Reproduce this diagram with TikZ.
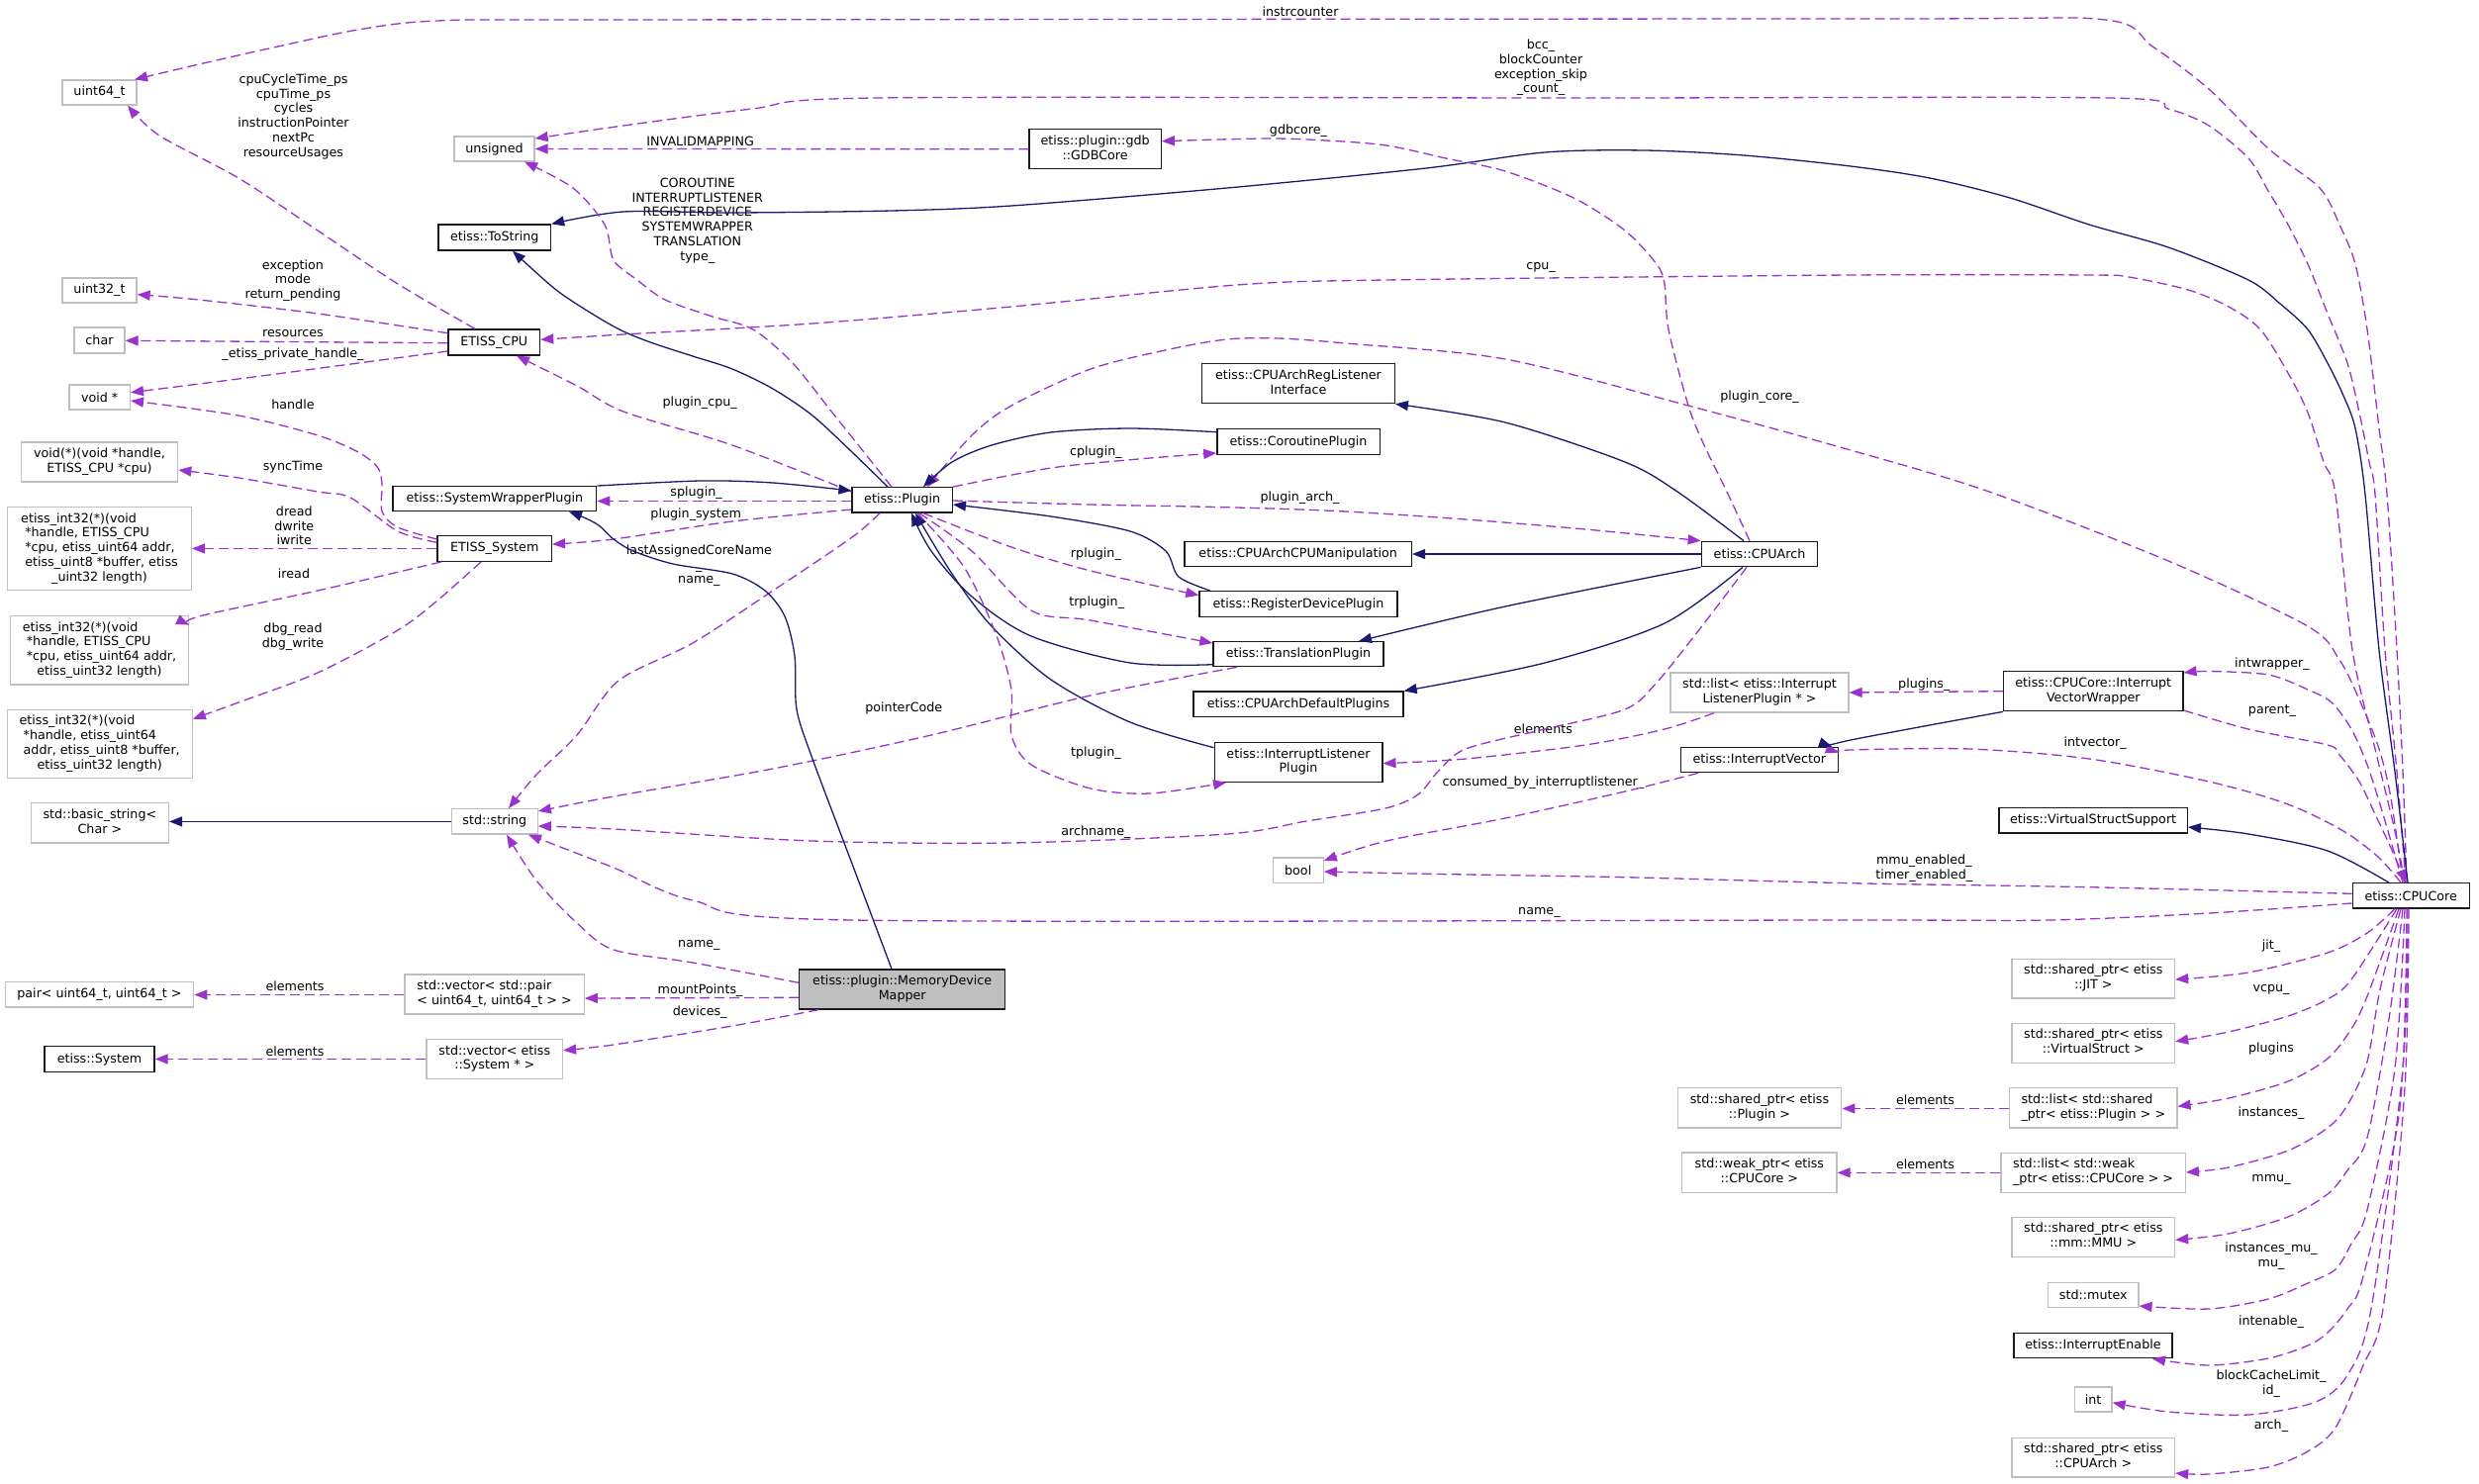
\documentclass[tikz,border=0pt]{standalone}
\usepackage{fontspec}
\setmainfont{DejaVu Sans}
\usetikzlibrary{arrows.meta}
\definecolor{memc}{HTML}{9A32CD}
\definecolor{inhc}{HTML}{191970}
\definecolor{extb}{HTML}{BFBFBF}
\definecolor{clsb}{HTML}{1A1A1A}
\newcommand\dfont{\fontsize{12.7}{14.8}\selectfont}
\newcommand\tb[1]{\begin{tabular}{@{}l@{}}#1\end{tabular}}
\newcommand\lc[1]{\multicolumn{1}{@{}c@{}}{#1}}
\tikzset{
 bx/.style={draw, line width=1.3pt, inner sep=0pt, font=\dfont},
 ext/.style={bx, draw=extb},
 cls/.style={bx, draw=clsb},
 mainbox/.style={bx, draw=clsb, fill=extb},
 sz/.style 2 args={minimum width=#1pt, minimum height=#2pt},
 lbl/.style={inner sep=0pt, font=\dfont, align=center},
 mem/.style={draw=memc, line width=1.3pt, dash pattern=on 10pt off 5pt, -{Triangle[length=13pt,width=10pt]}},
 inh/.style={draw=inhc, line width=1.3pt, -{Triangle[length=13pt,width=10pt]}},
}
\begin{document}
\begin{tikzpicture}[x=1pt,y=-1pt]
\path[use as bounding box, fill=white] (0,0) rectangle (2505,1499);
% ---------- nodes ----------
\node[ext,sz={75}{25}] (uint64) at (100.5,93.5) {uint64\_t};
\node[ext,sz={81}{25}] (unsigned) at (499.5,150.5) {unsigned};
\node[cls,sz={113.5}{26}] (tostring) at (499.8,240) {etiss::ToString};
\node[ext,sz={75}{25}] (uint32) at (100.5,293.5) {uint32\_t};
\node[ext,sz={51}{26}] (char) at (100.5,344) {char};
\node[cls,sz={92.6}{26}] (etisscpu) at (499.3,346) {ETISS\_CPU};
\node[ext,sz={61.4}{25}] (voidp) at (100.7,401.5) {void *};
\node[ext,sz={158.3}{40}] (voidfn) at (100.5,467) {\tb{void(*)(void *handle,\\\lc{ETISS\_CPU *cpu)}}};
\node[cls,sz={205.7}{25}] (swp) at (499.9,504.2) {etiss::SystemWrapperPlugin};
\node[ext,sz={185.7}{84}] (a5) at (100.5,554.7) {\tb{etiss\_int32(*)(void\\\ *handle, ETISS\_CPU\\\ *cpu, etiss\_uint64 addr,\\\ etiss\_uint8 *buffer, etiss\\\lc{\_uint32 length)}}};
\node[cls,sz={115.3}{25.6}] (etisssys) at (499.7,554.5) {ETISS\_System};
\node[ext,sz={180}{69.3}] (a4) at (100.5,657.4) {\tb{etiss\_int32(*)(void\\\ *handle, ETISS\_CPU\\\ *cpu, etiss\_uint64 addr,\\\lc{etiss\_uint32 length)}}};
\node[ext,sz={187}{69.4}] (b4) at (100.7,752) {\tb{etiss\_int32(*)(void\\\ *handle, etiss\_uint64\\\ addr, etiss\_uint8 *buffer,\\\lc{etiss\_uint32 length)}}};
\node[ext,sz={139}{40.3}] (basicstr) at (100.9,831.9) {\tb{std::basic\_string<\\\lc{Char >}}};
\node[ext,sz={86.8}{25.3}] (stdstr) at (499.8,830.4) {std::string};
\node[ext,sz={190.5}{25.3}] (pair) at (100.5,1005.4) {pair< uint64\_t, uint64\_t >};
\node[ext,sz={181.2}{40}] (vecpair) at (499.6,1005) {\tb{std::vector< std::pair\\\lc{< uint64\_t, uint64\_t > >}}};
\node[cls,sz={111}{25.6}] (sys) at (100.5,1070.5) {etiss::System};
\node[ext,sz={137.4}{39.6}] (vecsys) at (499.8,1070.5) {\tb{std::vector< etiss\\\lc{::System * >}}};
\node[cls,sz={133.3}{40}] (gdb) at (1106.6,150.7) {\tb{etiss::plugin::gdb\\\lc{::GDBCore}}};
\node[cls,sz={101.3}{25.3}] (plugin) at (911.7,505.4) {etiss::Plugin};
\node[mainbox,sz={208}{40}] (mdm) at (911.7,1000) {\tb{etiss::plugin::MemoryDevice\\\lc{Mapper}}};
\node[cls,sz={194.5}{40}] (reglis) at (1312,387.7) {\tb{etiss::CPUArchRegListener\\\lc{Interface}}};
\node[cls,sz={164.3}{25.6}] (corout) at (1312,446.5) {etiss::CoroutinePlugin};
\node[cls,sz={229.4}{25.4}] (manip) at (1311.7,560) {etiss::CPUArchCPUManipulation};
\node[cls,sz={200}{25.6}] (rdp) at (1312,610.5) {etiss::RegisterDevicePlugin};
\node[cls,sz={172}{25}] (tp) at (1312,661.2) {etiss::TranslationPlugin};
\node[cls,sz={212}{25.3}] (defpl) at (1312,711.7) {etiss::CPUArchDefaultPlugins};
\node[cls,sz={169.7}{39.6}] (ilp) at (1312,770.5) {\tb{etiss::InterruptListener\\\lc{Plugin}}};
\node[cls,sz={117.4}{25.4}] (cpuarch) at (1778,560) {etiss::CPUArch};
\node[ext,sz={180}{40}] (listilp) at (1778,700) {\tb{std::list< etiss::Interrupt\\\lc{ListenerPlugin * >}}};
\node[cls,sz={158.7}{25.4}] (intvec) at (1777.9,768) {etiss::InterruptVector};
\node[ext,sz={51}{25.7}] (bool) at (1311.7,879.9) {bool};
\node[cls,sz={181.2}{40}] (ivw) at (2115.3,698.7) {\tb{etiss::CPUCore::Interrupt\\\lc{VectorWrapper}}};
\node[cls,sz={190.4}{25.3}] (vss) at (2115.1,829.4) {etiss::VirtualStructSupport};
\node[cls,sz={118.1}{25.3}] (cpucore) at (2436.2,905.4) {etiss::CPUCore};
\node[ext,sz={164.4}{39.7}] (jit) at (2115.3,989.2) {\tb{std::shared\_ptr< etiss\\\lc{::JIT >}}};
\node[ext,sz={164.4}{40}] (vstruct) at (2115.3,1054.3) {\tb{std::shared\_ptr< etiss\\\lc{::VirtualStruct >}}};
\node[ext,sz={169.2}{40.3}] (listpl) at (2115.3,1119.9) {\tb{std::list< std::shared\\\lc{\_ptr< etiss::Plugin > >}}};
\node[ext,sz={165.6}{40.3}] (splugin) at (1778,1119.9) {\tb{std::shared\_ptr< etiss\\\lc{::Plugin >}}};
\node[ext,sz={186.4}{40}] (listweak) at (2115.1,1185.3) {\tb{std::list< std::weak\\\lc{\_ptr< etiss::CPUCore > >}}};
\node[ext,sz={156.3}{40.3}] (weakcore) at (1777.9,1185.2) {\tb{std::weak\_ptr< etiss\\\lc{::CPUCore >}}};
\node[ext,sz={164.4}{40}] (mmu) at (2115.3,1250.3) {\tb{std::shared\_ptr< etiss\\\lc{::mm::MMU >}}};
\node[ext,sz={91.2}{25.4}] (mutex) at (2115.3,1309) {std::mutex};
\node[cls,sz={160}{25.4}] (intenable) at (2115,1360) {etiss::InterruptEnable};
\node[ext,sz={37.8}{25}] (int) at (2115.1,1414.5) {int};
\node[ext,sz={164.4}{39.7}] (sparch) at (2115.3,1473.2) {\tb{std::shared\_ptr< etiss\\\lc{::CPUArch >}}};
% ---------- edge labels ----------
\node[lbl] (l1) at (1314,11.7) {instrcounter};
\node[lbl] (l2) at (1557,68.3) {bcc\_\\blockCounter\\exception\_skip\\\_count\_};
\node[lbl] (l3) at (707.6,142.7) {INVALIDMAPPING};
\node[lbl] (l4) at (1312,131.7) {gdbcore\_};
\node[lbl] (l5) at (704.8,223) {COROUTINE\\INTERRUPTLISTENER\\REGISTERDEVICE\\SYSTEMWRAPPER\\TRANSLATION\\type\_};
\node[lbl] (l6) at (296.5,117.7) {cpuCycleTime\_ps\\cpuTime\_ps\\cycles\\instructionPointer\\nextPc\\resourceUsages};
\node[lbl] (l7) at (1557,270.7) {cpu\_};
\node[lbl] (l8) at (1778,401) {plugin\_core\_};
\node[lbl] (l9) at (296,283.5) {exception\\mode\\return\_pending};
\node[lbl] (l10) at (296,336.7) {resources};
\node[lbl] (l11) at (296,358.3) {\_etiss\_private\_handle\_};
\node[lbl] (l12) at (296,408.3) {handle};
\node[lbl] (l13) at (296,471.7) {syncTime};
\node[lbl] (l14) at (707.2,407.3) {plugin\_cpu\_};
\node[lbl] (l15) at (1107.4,456.7) {cplugin\_};
\node[lbl] (l16) at (703.6,498.3) {splugin\_};
\node[lbl] (l17) at (706.4,520) {plugin\_system\_};
\node[lbl] (l18) at (706.4,571.7) {lastAssignedCoreName\\\_\\name\_};
\node[lbl] (l19) at (1313.5,503.3) {plugin\_arch\_};
\node[lbl] (l20) at (1107.4,560) {rplugin\_};
\node[lbl] (l21) at (1108.2,609) {trplugin\_};
\node[lbl] (l22) at (913.3,715.7) {pointerCode};
\node[lbl] (l23) at (1107.4,760.7) {tplugin\_};
\node[lbl] (l24) at (1107.4,840.7) {archname\_};
\node[lbl] (l25) at (297.3,531.3) {dread\\dwrite\\iwrite};
\node[lbl] (l26) at (297,579.3) {iread};
\node[lbl] (l27) at (296,643.7) {dbg\_read\\dbg\_write};
\node[lbl] (l28) at (706.4,955.7) {name\_};
\node[lbl] (l29) at (707.6,1000.7) {mountPoints\_};
\node[lbl] (l30) at (707.2,1022.7) {devices\_};
\node[lbl] (l31) at (298,996.7) {elements};
\node[lbl] (l32) at (298,1062.3) {elements};
\node[lbl] (l33) at (1559.4,736.7) {elements};
\node[lbl] (l34) at (1559.4,790.7) {consumed\_by\_interruptlistener\_};
\node[lbl] (l35) at (1555.4,922.7) {name\_};
\node[lbl] (l36) at (1944.3,691.7) {plugins\_};
\node[lbl] (l37) at (2295.9,671) {intwrapper\_};
\node[lbl] (l38) at (2295.9,719) {parent\_};
\node[lbl] (l39) at (2117.1,750.7) {intvector\_};
\node[lbl] (l40) at (1944.3,877.3) {mmu\_enabled\_\\timer\_enabled\_};
\node[lbl] (l41) at (2295.1,955.7) {jit\_};
\node[lbl] (l42) at (2295,1000.7) {vcpu\_};
\node[lbl] (l43) at (2295,1060) {plugins};
\node[lbl] (l44) at (2295,1125) {instances\_};
\node[lbl] (l45) at (2295,1192.7) {mmu\_};
\node[lbl] (l46) at (2295,1270) {instances\_mu\_\\mu\_};
\node[lbl] (l47) at (2295,1335.7) {intenable\_};
\node[lbl] (l48) at (2295,1398.7) {blockCacheLimit\_\\id\_};
\node[lbl] (l49) at (2295,1440.7) {arch\_};
\node[lbl] (l50) at (1945.5,1111.7) {elements};
\node[lbl] (l51) at (1945.5,1176.7) {elements};
% ---------- edges from CPUCore upward ----------
\draw[mem] plot[smooth] coordinates {(cpucore.north -| 2432,0) (2428,780) (2422,657) (2412,500) (2404,433) (2392,333) (2380,267) (2364,227) (2344,190) (2292,150) (2232,90) (2175,47) (2127,20) (1900,19) (630,20) (442,21) (362,30) (281,47) (201,65) (uint64.north -| 136,0)};
\draw[mem] plot[smooth] coordinates {(cpucore.north -| 2431,0) (2422,780) (2410,657) (2400,500) (2394,467) (2384,417) (2372,367) (2352,317) (2332,267) (2312,227) (2292,193) (2272,160) (2232,127) (2191,110) (2131,99) (1600,99) (885,99) (760,110) (630,127) (unsigned.east |- 0,140)};
\draw[inh] plot[smooth] coordinates {(cpucore.north -| 2433,0) (2420,780) (2404,657) (2390,500) (2380,433) (2368,400) (2352,367) (2332,333) (2304,307) (2272,283) (2191,250) (2111,227) (2031,200) (1950,180) (1870,168) (1762,157) (1662,152) (1561,154) (1441,170) (1240,190) (1022,208) (901,213) (740,215) (630,214) (tostring.north east)};
\draw[mem] plot[smooth] coordinates {(cpucore.north -| 2430,0) (2420,840) (2400,757) (2377,657) (2360,500) (2348,467) (2332,417) (2312,377) (2284,333) (2252,310) (2211,293) (2151,280) (2111,278) (1870,278) (1400,283) (1250,288) (1022,310) (821,327) (630,338) (etisscpu.east |- 0,343.3)};
\draw[mem] plot[smooth] coordinates {(cpucore.north -| 2428,0) (2416,807) (2404,757) (2384,707) (2364,667) (2332,633) (2191,567) (2010,497) (1870,455) (1706,410) (1521,363) (1360,347) (1292,342) (1240,343) (1182,353) (1102,373) (1022,410) (982,440) (plugin.north -| 937,0)};
\draw[mem] plot[smooth] coordinates {(cpucore.north -| 2426,0) (2404,867) (2368,840) (2312,813) (2232,790) (2111,767) (1990,757) (1870,758) (intvec.east |- 0,760.7)};
\draw[mem] plot[smooth] coordinates {(cpucore.north -| 2428,0) (2408,823) (2392,773) (2376,737) (2356,710) (2332,697) (2292,682) (2232,678.5) (ivw.east |- 0,680)};
\draw[mem] plot[smooth] coordinates {(ivw.east |- 0,718) (2272,737) (2352,753) (2364,763) (2384,790) (2400,823) (2416,857) (cpucore.north -| 2431,0)};
\draw[inh] plot[smooth] coordinates {(cpucore.north -| 2414,0) (2352,860) (2272,843) (vss.east |- 0,836)};
\draw[mem] plot[smooth] coordinates {(cpucore.west |- 0,903.3) (2111,896.7) (1870,892.7) (1642,886.7) (1441,883.3) (bool.east |- 0,881)};
\draw[mem] plot[smooth] coordinates {(cpucore.west |- 0,913) (2232,923) (2071,930) (1870,930) (861,930) (700,910) (620,877) (stdstr.south -| 534,0)};
% ---------- edges from CPUCore downward ----------
\draw[mem] plot[smooth] coordinates {(cpucore.south -| 2420,0) (2392,943) (2352,963) (2272,983) (jit.east |- 0,990)};
\draw[mem] plot[smooth] coordinates {(cpucore.south -| 2422,0) (2376,990) (2352,1010) (2312,1027) (2252,1043) (vstruct.east |- 0,1052.7)};
\draw[mem] plot[smooth] coordinates {(cpucore.south -| 2424,0) (2392,1007) (2376,1040) (2352,1070) (2312,1093) (2252,1110) (listpl.east |- 0,1118.3)};
\draw[mem] plot[smooth] coordinates {(cpucore.south -| 2426,0) (2405,1000) (2392,1073) (2372,1117) (2352,1140) (2312,1163) (2252,1180) (listweak.east |- 0,1185)};
\draw[mem] plot[smooth] coordinates {(cpucore.south -| 2428,0) (2414,1030) (2392,1150) (2372,1183) (2352,1207) (2312,1230) (2252,1247) (mmu.east |- 0,1253.3)};
\draw[mem] plot[smooth] coordinates {(cpucore.south -| 2430,0) (2420,1080) (2392,1223) (2376,1257) (2360,1283) (2332,1297) (2292,1313) (2232,1323) (mutex.east |- 0,1320)};
\draw[mem] plot[smooth] coordinates {(cpucore.south -| 2432,0) (2425,1120) (2388,1290) (2372,1323) (2352,1347) (2332,1360) (2292,1373) (2232,1380) (intenable.south -| 2175,0)};
\draw[mem] plot[smooth] coordinates {(cpucore.south -| 2433,0) (2428,1080) (2396,1323) (2372,1390) (2340,1417) (2272,1430) (2191,1427) (int.east |- 0,1417.7)};
\draw[mem] plot[smooth] coordinates {(cpucore.south -| 2434,0) (2430,1100) (2408,1323) (2388,1380) (2360,1443) (2332,1467) (2292,1483) (2232,1490) (sparch.east |- 0,1489)};
\draw[mem] (listpl.west |- 0,1120.5) -- (splugin.east |- 0,1120.5);
\draw[mem] (listweak.west) -- (weakcore.east |- listweak.west);
% ---------- interrupt vector group ----------
\draw[mem] (ivw.west) -- (listilp.east);
\draw[inh] plot[smooth] coordinates {(ivw.south west) (1870,748) (intvec.north -| 1851,0)};
\draw[mem] plot[smooth] coordinates {(intvec.south -| 1716,0) (1642,800) (1521,827) (1401,850) (bool.east |- 0,870)};
\draw[mem] plot[smooth] coordinates {(listilp.south -| 1732,0) (1682,737) (1602,753) (1481,767) (ilp.east |- 0,771.7)};
% ---------- CPUArch ----------
\draw[mem] plot[smooth] coordinates {(cpuarch.north -| 1768,0) (1744,495) (1722,450) (1706,410) (1686,333) (1682,287) (1674,267) (1642,233) (1590,200) (1521,173) (1461,160) (1401,147) (1340,142) (1280,140) (gdb.east |- 0,142.7)};
\draw[inh] plot[smooth] coordinates {(cpuarch.north -| 1762,0) (1695,497) (1642,467) (1521,427) (reglis.south east)};
\draw[inh] (cpuarch.west) -- (manip.east);
\draw[inh] plot[smooth] coordinates {(cpuarch.south west) (1521,613) (tp.north east -| 1373,0)};
\draw[inh] plot[smooth] coordinates {(cpuarch.south -| 1761,0) (1682,630) (1561,670) (defpl.north east)};
\draw[mem] plot[smooth] coordinates {(cpuarch.south -| 1765,0) (1722,630) (1674,690) (1642,717) (1561,737) (1481,757) (1453,780) (1433,803) (1400,817) (1320,830) (1240,843) (1022,852) (821,850) (620,838) (stdstr.east |- 0,835)};
% ---------- Plugin ----------
\draw[mem] (gdb.west) -- (unsigned.east);
\draw[mem] plot[smooth] coordinates {(plugin.north -| 901,0) (881,467) (841,417) (801,367) (761,333) (720,320) (672,303) (644,283) (620,263) (611,227) (579,190) (unsigned.south -| 530,0)};
\draw[inh] plot[smooth] coordinates {(plugin.north -| 897,0) (861,457) (821,420) (781,393) (740,373) (700,360) (660,347) (630,335) (603,320) (562,293) (tostring.south -| 518,0)};
\draw[mem] plot[smooth] coordinates {(plugin.west |- 0,497) (740,450) (630,416) (583,390) (etisscpu.south -| 522,0)};
\draw[inh] plot[smooth] coordinates {(corout.west |- 0,436.7) (1142,433) (1062,437) (1002,450) (962,467) (plugin.north -| 933,0)};
\draw[mem] plot[smooth] coordinates {(plugin.north east) (1062,473) (1162,463) (corout.west |- 0,458)};
\draw[mem] (plugin.west |- 0,506.5) -- (swp.east |- 0,506.5);
\draw[inh] plot[smooth] coordinates {(swp.north east) (708,486) (781,488) (plugin.west |- 0,496)};
\draw[mem] plot[smooth] coordinates {(plugin.west |- 0,515) (740,527) (620,545) (etisssys.east |- 0,550)};
\draw[mem] plot[smooth] coordinates {(plugin.south -| 889,0) (861,543) (781,597) (700,650) (625,688) (583,743) (542,783) (stdstr.north -| 514,0)};
\draw[mem] plot[smooth] coordinates {(plugin.east |- 0,506) (1102,510) (1250,513) (1360,517) (1481,525) (1602,535) (cpuarch.north west)};
\draw[inh] plot[smooth] coordinates {(rdp.north -| 1223,0) (1191,583) (1178,557) (1142,537) (1062,522) (plugin.east |- 0,510)};
\draw[mem] plot[smooth] coordinates {(plugin.south -| 933,0) (1022,553) (1102,577) (rdp.west |- 0,601.7)};
\draw[inh] plot[smooth] coordinates {(tp.west |- 0,671.7) (1142,670) (1042,643) (982,603) (941,557) (plugin.south -| 921,0)};
\draw[mem] plot[smooth] coordinates {(plugin.south -| 929,0) (982,557) (1042,617) (1102,627) (tp.west |- 0,650)};
\draw[inh] plot[smooth] coordinates {(ilp.west |- 0,755.7) (1142,730) (1062,687) (1002,633) (962,580) (plugin.south -| 925,0)};
\draw[mem] plot[smooth] coordinates {(plugin.south -| 927,0) (974,573) (1006,640) (1022,697) (1022,743) (1042,773) (1102,797) (1162,802) (ilp.south -| 1239,0)};
\draw[mem] plot[smooth] coordinates {(tp.south -| 1250,0) (1102,703) (941,743) (781,777) (620,805) (stdstr.east |- 0,820)};
% ---------- MemoryDeviceMapper ----------
\draw[inh] plot[smooth] coordinates {(mdm.north -| 901,0) (861,873) (821,767) (805,717) (803,663) (793,623) (773,597) (740,580) (680,570) (640,557) (620,545) (605,531) (590,523) (swp.south -| 575,0)};
\draw[mem] plot[smooth] coordinates {(mdm.west |- 0,993.3) (700,973) (620,960) (583,933) (542,890) (stdstr.south -| 512,0)};
\draw[mem] (mdm.west |- 0,1008.3) -- (vecpair.east |- 0,1009);
\draw[mem] (vecpair.west |- 0,1005.5) -- (pair.east |- 0,1005.5);
\draw[mem] plot[smooth] coordinates {(mdm.south -| 827,0) (740,1037) (620,1056) (vecsys.east |- 0,1061.7)};
\draw[mem] (vecsys.west) -- (sys.east);
\draw[inh] (stdstr.west) -- (basicstr.east |- stdstr.west);
% ---------- ETISS_CPU / ETISS_System ----------
\draw[mem] plot[smooth] coordinates {(etisscpu.north -| 480,0) (402,287) (321,233) (241,180) (161,137) (uint64.south -| 129,0)};
\draw[mem] plot[smooth] coordinates {(etisscpu.west |- 0,336.7) (321,317) (201,303) (uint32.east |- 0,297.7)};
\draw[mem] (etisscpu.west |- 0,346.7) -- (char.east |- 0,344.3);
\draw[mem] plot[smooth] coordinates {(etisscpu.west |- 0,355) (362,367) (241,383) (voidp.east |- 0,396.7)};
\draw[mem] plot[smooth] coordinates {(etisssys.west |- 0,545) (402,533) (386,517) (386,490) (382,473) (362,457) (321,440) (241,420) (voidp.east |- 0,405)};
\draw[mem] plot[smooth] coordinates {(etisssys.west |- 0,548.3) (402,537) (354,503) (321,497) (241,483) (voidfn.east |- 0,475)};
\draw[mem] (etisssys.west) -- (a5.east |- etisssys.west);
\draw[mem] plot[smooth] coordinates {(etisssys.south -| 446,0) (321,597) (201,623) (a4.east |- 0,631.7)};
\draw[mem] plot[smooth] coordinates {(etisssys.south -| 486,0) (442,607) (402,637) (321,680) (241,710) (b4.east |- 0,726.7)};
\end{tikzpicture}
\end{document}
